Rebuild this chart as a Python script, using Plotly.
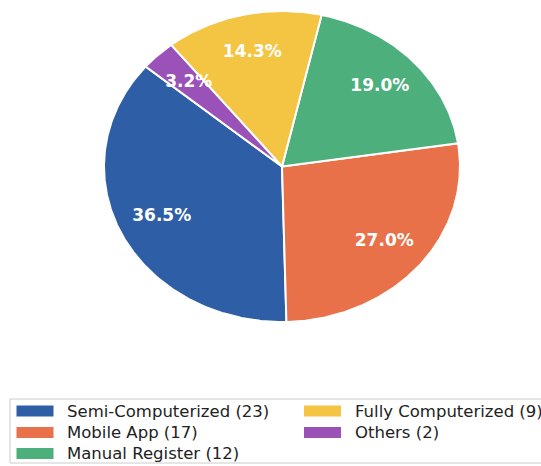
import numpy as np
import plotly.graph_objects as go

# Record-keeping methods and respondent counts
categories = ["Semi-Computerized", "Mobile App", "Manual Register", "Fully Computerized", "Others"]
counts = [23, 17, 12, 9, 2]
colors = ["#2E5FA6", "#E8714A", "#4DAF7C", "#F4C542", "#9A52B8"]

W, H = 541, 466
# pie centre / radii in pixels (the pie is drawn as an ellipse on unit axes)
CX, CY, RX, RY = 282, 166.5, 178, 155.5
START_DEG = 140      # first wedge starts here, wedges run counter-clockwise
PCT_DIST = 0.75

total = sum(counts)
fracs = np.array(counts) / total
edges = START_DEG + 360 * np.concatenate([[0], np.cumsum(fracs)])

fig = go.Figure()

for name, f, c, a0, a1 in zip(categories, fracs, colors, edges[:-1], edges[1:]):
    t = np.radians(np.linspace(a0, a1, max(int((a1 - a0) * 2), 8)))
    xs = np.concatenate([[0], np.cos(t), [0]])
    ys = np.concatenate([[0], np.sin(t), [0]])
    fig.add_trace(go.Scatter(
        x=xs, y=ys, mode="lines", fill="toself", fillcolor=c,
        line=dict(color="white", width=2), name=name,
        hoverinfo="skip", showlegend=False,
    ))

# percentage labels
mids = np.radians((edges[:-1] + edges[1:]) / 2)
fig.add_trace(go.Scatter(
    x=PCT_DIST * np.cos(mids), y=PCT_DIST * np.sin(mids), mode="text",
    text=[f"{100 * f:.1f}%" for f in fracs],
    textfont=dict(family="DejaVu Sans", size=17, color="white", weight="bold"),
    textposition="middle center", hoverinfo="skip", showlegend=False,
))

# legend: framed box with two columns of swatches
shapes = [dict(type="rect", xref="paper", yref="paper",
               x0=10 / W, x1=600 / W, y0=1 - 463 / H, y1=1 - 399 / H,
               line=dict(color="#cccccc", width=1), fillcolor="white", layer="below")]
annotations = []
col_x = [16.5, 304]
row_y = [411, 432.5, 453.5]
for i, (name, n, c) in enumerate(zip(categories, counts, colors)):
    col, row = divmod(i, 3)
    sx, sy = col_x[col], row_y[row]
    shapes.append(dict(type="rect", xref="paper", yref="paper",
                       x0=sx / W, x1=(sx + 37) / W,
                       y0=1 - (sy + 5.5) / H, y1=1 - (sy - 5.5) / H,
                       line=dict(width=0), fillcolor=c))
    annotations.append(dict(
        xref="paper", yref="paper", x=(sx + 48.5) / W, y=1 - sy / H,
        xanchor="left", yanchor="middle", showarrow=False,
        text=f"{name} ({n})",
        font=dict(family="DejaVu Sans", size=16.5, color="#222222"),
    ))

fig.update_layout(
    width=W, height=H,
    margin=dict(l=0, r=0, t=0, b=0),
    paper_bgcolor="white", plot_bgcolor="white",
    xaxis=dict(range=[-CX / RX, (W - CX) / RX], visible=False, fixedrange=True),
    yaxis=dict(range=[(CY - H) / RY, CY / RY], visible=False, fixedrange=True),
    shapes=shapes, annotations=annotations,
    showlegend=False,
)

fig.write_html("out.html")
